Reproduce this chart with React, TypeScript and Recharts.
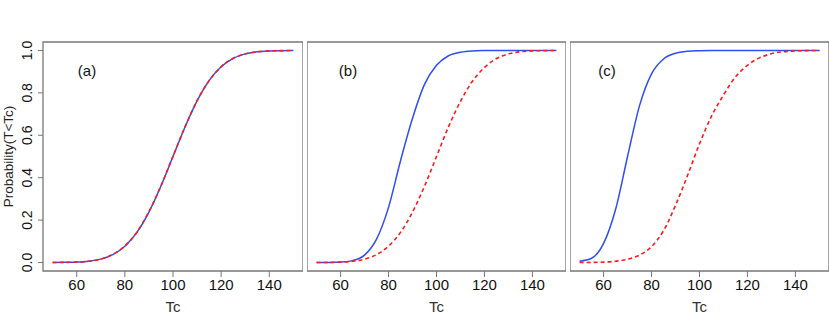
import { LineChart, Line, XAxis, YAxis, ReferenceArea } from 'recharts'

const tc = [50, 55, 60, 65, 70, 75, 80, 85, 90, 95, 100, 105, 110, 115, 120, 125, 130, 135, 140, 145, 150]

// panel (a): the two curves sit on top of each other
const blueA = [0.0002, 0.0007, 0.002, 0.006, 0.016, 0.037, 0.077, 0.142, 0.238, 0.361, 0.5, 0.639, 0.762, 0.858, 0.923, 0.963, 0.984, 0.994, 0.998, 0.9993, 0.9998]
const redA = [0.0002, 0.0007, 0.002, 0.006, 0.016, 0.038, 0.078, 0.143, 0.24, 0.362, 0.501, 0.64, 0.763, 0.858, 0.923, 0.963, 0.984, 0.994, 0.998, 0.9993, 0.9998]

// panel (b)
const blueB = [0, 0.0005, 0.002, 0.009, 0.035, 0.11, 0.26, 0.48, 0.68, 0.84, 0.93, 0.975, 0.992, 0.998, 0.9995, 1, 1, 1, 1, 1, 1]
const redB = [0.0002, 0.0007, 0.002, 0.006, 0.016, 0.037, 0.077, 0.142, 0.238, 0.36, 0.5, 0.64, 0.76, 0.855, 0.92, 0.962, 0.984, 0.994, 0.998, 0.9993, 0.9998]

// panel (c)
const blueC = [0.006, 0.02, 0.09, 0.25, 0.5, 0.74, 0.89, 0.96, 0.987, 0.996, 0.999, 1, 1, 1, 1, 1, 1, 1, 1, 1, 1]
const redC = [0.0002, 0.0006, 0.002, 0.006, 0.015, 0.035, 0.075, 0.15, 0.27, 0.41, 0.56, 0.69, 0.79, 0.875, 0.93, 0.965, 0.985, 0.994, 0.998, 0.9995, 1]

const xTicks = [60, 80, 100, 120, 140]
const yTicks = [0, 0.2, 0.4, 0.6, 0.8, 1.0]
const panelLabels = ['(a)', '(b)', '(c)']
const yTitle = 'Probability(T<Tc)'

const FONT = '"Liberation Sans", Arial, Helvetica, sans-serif'
const BOX = '#777'
const BLUE = '#2f4cf5'
const RED = '#ff1a1a'

const build = (blue: number[], red: number[]) => tc.map((t, i) => ({ t, blue: blue[i], red: red[i] }))

const panels = [
  { data: build(blueA, redA), left: 0, width: 303, showY: true, label: panelLabels[0], lx: 87 },
  { data: build(blueB, redB), left: 307, width: 259, showY: false, label: panelLabels[1], lx: 348 },
  { data: build(blueC, redC), left: 570, width: 259, showY: false, label: panelLabels[2], lx: 607 },
]

function YTick(props: any) {
  const { x, y, payload } = props
  const cx = x - 9
  return (
    <text
      x={cx}
      y={y}
      transform={`rotate(-90 ${cx} ${y})`}
      textAnchor="middle"
      dy="0.35em"
      fontSize={14}
      fontFamily={FONT}
      fill="#111"
    >
      {payload.value.toFixed(1)}
    </text>
  )
}

function YTitle(props: any) {
  const { viewBox } = props
  const cx = 8
  const cy = viewBox.y + viewBox.height / 2
  return (
    <text
      x={cx}
      y={cy}
      transform={`rotate(-90 ${cx} ${cy})`}
      textAnchor="middle"
      dy="0.35em"
      fontSize={13.5}
      fontFamily={FONT}
      fill="#222"
    >
      {yTitle}
    </text>
  )
}

function Panel({ data, left, width, showY }: { data: any[]; left: number; width: number; showY: boolean }) {
  return (
    <div style={{ position: 'absolute', left, top: 0 }}>
      <LineChart width={width} height={323} data={data} margin={{ top: 42, right: 0, bottom: 0, left: 0 }}>
        <XAxis
          dataKey="t"
          type="number"
          domain={[46, 154]}
          ticks={xTicks}
          allowDataOverflow
          height={52}
          axisLine={false}
          tickLine={{ stroke: BOX }}
          tickSize={6}
          tick={{ fontSize: 15, fontFamily: FONT, fill: '#111' }}
          label={{ value: 'Tc', position: 'insideBottom', offset: 11, fontSize: 15, fontFamily: FONT, fill: '#333' }}
        />
        <YAxis
          type="number"
          domain={[-0.04, 1.04]}
          ticks={yTicks}
          allowDataOverflow
          hide={!showY}
          width={43}
          axisLine={false}
          tickLine={{ stroke: BOX }}
          tickSize={5}
          tick={<YTick />}
          label={<YTitle />}
        />
        <ReferenceArea x1={46} x2={154} y1={-0.04} y2={1.04} fill="none" stroke={BOX} strokeWidth={1.3} ifOverflow="visible" />
        <Line type="monotone" dataKey="blue" stroke={BLUE} strokeWidth={1.5} dot={false} isAnimationActive={false} />
        <Line type="monotone" dataKey="red" stroke={RED} strokeWidth={1.6} strokeDasharray="4 3" dot={false} isAnimationActive={false} />
      </LineChart>
    </div>
  )
}

export default function App() {
  return (
    <div style={{ position: 'absolute', left: 0, top: 0, width: 830, height: 323, background: '#fff', fontFamily: FONT }}>
      {panels.map((p) => (
        <Panel key={p.label} data={p.data} left={p.left} width={p.width} showY={p.showY} />
      ))}
      {panels.map((p) => (
        <div
          key={'l' + p.label}
          style={{ position: 'absolute', left: p.lx - 20, width: 40, top: 62, textAlign: 'center', fontSize: 15, color: '#111', lineHeight: '18px' }}
        >
          {p.label}
        </div>
      ))}
    </div>
  )
}
